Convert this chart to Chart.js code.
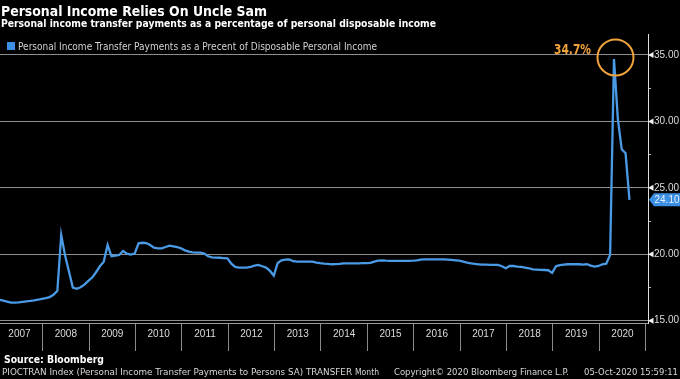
<!DOCTYPE html>
<html><head><meta charset="utf-8">
<script src="https://cdn.jsdelivr.net/npm/chart.js@4.4.1/dist/chart.umd.min.js"></script>
<style>
html,body{margin:0;padding:0;background:#000;width:680px;height:379px;overflow:hidden}
#wrap{position:relative;width:680px;height:379px;background:#000}
canvas{position:absolute;left:0;top:0}
.t{position:absolute;white-space:nowrap;transform-origin:0 0;font-family:'DejaVu Sans',sans-serif}
</style></head><body>
<div id="wrap">
<canvas id="c" width="680" height="379"></canvas>
<div class="t fit" data-w="266" style="left:1px;top:4px;font-size:14.5px;line-height:14.5px;font-weight:bold;color:#fff">Personal Income Relies On Uncle Sam</div>
<div class="t fit" data-w="435" style="left:1px;top:19px;font-size:10px;line-height:10px;font-weight:bold;color:#fff">Personal income transfer payments as a percentage of personal disposable income</div>
<div style="position:absolute;left:7px;top:42px;width:8px;height:8px;background:#3d8fe6"></div>
<div class="t fit" data-w="359" style="left:18px;top:41.5px;font-size:10px;line-height:10px;color:#d2d2d2">Personal Income Transfer Payments as a Precent of Disposable Personal Income</div>
<div class="t fit" data-w="100" style="left:4px;top:355px;font-size:10px;line-height:10px;font-weight:bold;color:#fff">Source: Bloomberg</div>
<div class="t fit" data-w="350" style="left:2px;top:367px;font-size:9.5px;line-height:9.5px;color:#d8d8d8">PIOCTRAN Index (Personal Income Transfer Payments to Persons SA) TRANSFER</div>
<div class="t fit" data-w="24" style="left:355px;top:367px;font-size:9.5px;line-height:9.5px;color:#d8d8d8">Month</div>
<div class="t fit" data-w="175" style="left:394px;top:367px;font-size:9.5px;line-height:9.5px;color:#d8d8d8">Copyright© 2020 Bloomberg Finance L.P.</div>
<div class="t fit" data-w="94" style="left:584px;top:367px;font-size:9.5px;line-height:9.5px;color:#d8d8d8">05-Oct-2020 15:59:11</div>
</div>
<script>
// ---- data (monthly, % of disposable personal income) ----
const yearLabels = ['2007','2008','2009','2010','2011','2012','2013','2014','2015','2016','2017','2018','2019','2020'];
const pct2007 = [16.58,16.52,16.44,16.37,16.36,16.38,16.42,16.46,16.49,16.53,16.58,16.65];
const pct2008 = [16.70,16.78,16.95,17.25,21.45,19.90,18.70,17.50,17.40,17.52,17.72,18.00];
const pct2009 = [18.25,18.65,19.10,19.45,20.70,19.85,19.90,19.95,20.25,20.05,19.98,20.05];
const pct2010 = [20.83,20.87,20.85,20.70,20.50,20.45,20.45,20.55,20.65,20.60,20.55,20.45];
const pct2011 = [20.30,20.20,20.15,20.12,20.12,20.05,19.85,19.77,19.75,19.74,19.72,19.70];
const pct2012 = [19.30,19.05,19.00,19.00,19.00,19.05,19.15,19.20,19.10,19.00,18.75,18.40];
const pct2013 = [19.35,19.55,19.60,19.62,19.48,19.45,19.45,19.45,19.45,19.45,19.38,19.33];
const pct2014 = [19.30,19.28,19.25,19.26,19.28,19.32,19.32,19.32,19.32,19.32,19.33,19.33];
const pct2015 = [19.35,19.45,19.52,19.55,19.52,19.50,19.50,19.50,19.50,19.50,19.50,19.52];
const pct2016 = [19.55,19.60,19.62,19.62,19.62,19.62,19.62,19.62,19.60,19.58,19.55,19.52];
const pct2017 = [19.45,19.38,19.32,19.28,19.25,19.22,19.22,19.20,19.20,19.20,19.10,18.95];
const pct2018 = [19.12,19.12,19.08,19.05,19.00,18.95,18.87,18.85,18.83,18.82,18.80,18.60];
const pct2019 = [19.10,19.18,19.22,19.25,19.25,19.25,19.25,19.22,19.25,19.15,19.08,19.12];
const pct2020 = [19.25,19.30,19.95,34.70,30.20,27.90,27.60,24.10];
const yTickValues = [15,17.5,20,22.5,25,27.5,30,32.5,35];
const peakLabel = '34.7%';

const yearly = [pct2007,pct2008,pct2009,pct2010,pct2011,pct2012,pct2013,pct2014,pct2015,pct2016,pct2017,pct2018,pct2019,pct2020];
const points = [];
yearly.forEach((arr, yi) => {
  const yr = parseInt(yearLabels[yi], 10);
  arr.forEach((v, m) => points.push({x: yr + (m + 0.8) / 12, y: v}));
});
const xTickValues = [];
yearLabels.forEach(l => { const yr = parseInt(l,10); xTickValues.push(yr + 0.5); xTickValues.push(yr + 1); });

const isMajor = v => Math.abs(v % 5) < 1e-6;

const deco = {
  id: 'deco',
  afterDraw(chart) {
    const c = chart.ctx, ys = chart.scales.y, xs = chart.scales.x;
    const ax = ys.left;
    c.save();
    // tick arrows
    c.fillStyle = '#f2f2f2';
    yTickValues.filter(isMajor).forEach(v => {
      const y = ys.getPixelForValue(v);
      c.beginPath(); c.moveTo(ax, y); c.lineTo(ax + 5.5, y - 3); c.lineTo(ax + 5.5, y + 3); c.closePath(); c.fill();
    });
    // last value tag
    const last = points[points.length - 1];
    const ty = ys.getPixelForValue(last.y);
    c.fillStyle = '#3b8fe2';
    c.beginPath();
    c.moveTo(ax + 1, ty);
    c.lineTo(ax + 6, ty - 6.5);
    c.lineTo(680, ty - 6.5);
    c.lineTo(680, ty + 6.5);
    c.lineTo(ax + 6, ty + 6.5);
    c.closePath(); c.fill();
    c.fillStyle = '#e6f2ff';
    c.font = '10px "Liberation Sans", Arial, sans-serif';
    c.textBaseline = 'middle'; c.textAlign = 'left';
    c.fillText(last.y.toFixed(2), ax + 6.5, ty + 0.5);
    // peak annotation
    let pk = points[0];
    points.forEach(p => { if (p.y > pk.y) pk = p; });
    const px = xs.getPixelForValue(pk.x), py = ys.getPixelForValue(pk.y);
    c.strokeStyle = '#f2a33c'; c.lineWidth = 2;
    c.beginPath(); c.arc(px + 1.5, py - 1.5, 18, 0, Math.PI * 2); c.stroke();
    c.fillStyle = '#f2a33c';
    c.font = 'bold 14px "DejaVu Sans", sans-serif';
    c.textAlign = 'right'; c.textBaseline = 'alphabetic';
    c.fillText(peakLabel, px - 23, py - 5, 37);
    c.restore();
  }
};

new Chart(document.getElementById('c'), {
  type: 'line',
  data: { datasets: [{
    label: 'Personal Income Transfer Payments as a Precent of Disposable Personal Income',
    data: points, borderColor: '#4a9ae6', borderWidth: 2.3, pointRadius: 0, tension: 0, fill: false
  }]},
  options: {
    responsive: false, animation: false, devicePixelRatio: 1,
    layout: { padding: { top: 34, left: 0, right: 0, bottom: 0 } },
    plugins: { legend: { display: false }, tooltip: { enabled: false } },
    scales: {
      x: {
        type: 'linear', min: 2007.08, max: 2021.05,
        afterBuildTicks: s => { s.ticks = xTickValues.map(v => ({ value: v })); },
        afterFit: s => { s.height = 56; },
        ticks: {
          autoSkip: false, maxRotation: 0, padding: -23, color: '#dcdcdc',
          font: { family: 'Liberation Sans', size: 10 },
          callback: v => (Math.abs(v % 1 - 0.5) < 1e-6 ? yearLabels[Math.round(v - 0.5) - 2007] : '')
        },
        grid: {
          drawOnChartArea: false, drawTicks: true, tickLength: 28, color: 'transparent',
          tickColor: ctx => (ctx.tick && Math.abs(ctx.tick.value % 1) < 1e-6 ? '#8a8a8a' : 'rgba(0,0,0,0)')
        },
        border: { display: true, color: '#9a9a9a', width: 1 }
      },
      y: {
        position: 'right', min: 14.83, max: 36.58,
        afterBuildTicks: s => { s.ticks = yTickValues.map(v => ({ value: v })); },
        afterFit: s => { s.width = 32; },
        ticks: {
          autoSkip: false, padding: 3, color: '#dcdcdc',
          font: { family: 'Liberation Sans', size: 10 },
          callback: v => (isMajor(v) ? v.toFixed(2) : '')
        },
        grid: {
          drawOnChartArea: true, drawTicks: true, tickLength: 3, lineWidth: 1,
          color: ctx => (ctx.tick && isMajor(ctx.tick.value) ? '#8e8e8e' : 'rgba(0,0,0,0)'),
          tickColor: ctx => (ctx.tick && isMajor(ctx.tick.value) ? 'rgba(0,0,0,0)' : '#bdbdbd')
        },
        border: { display: true, color: '#dedede', width: 1 }
      }
    }
  },
  plugins: [deco]
});

document.querySelectorAll('.fit').forEach(el => {
  const w = el.getBoundingClientRect().width;
  const target = parseFloat(el.dataset.w);
  if (w > 0) el.style.transform = 'scaleX(' + (target / w) + ')';
});
</script>
</body></html>
